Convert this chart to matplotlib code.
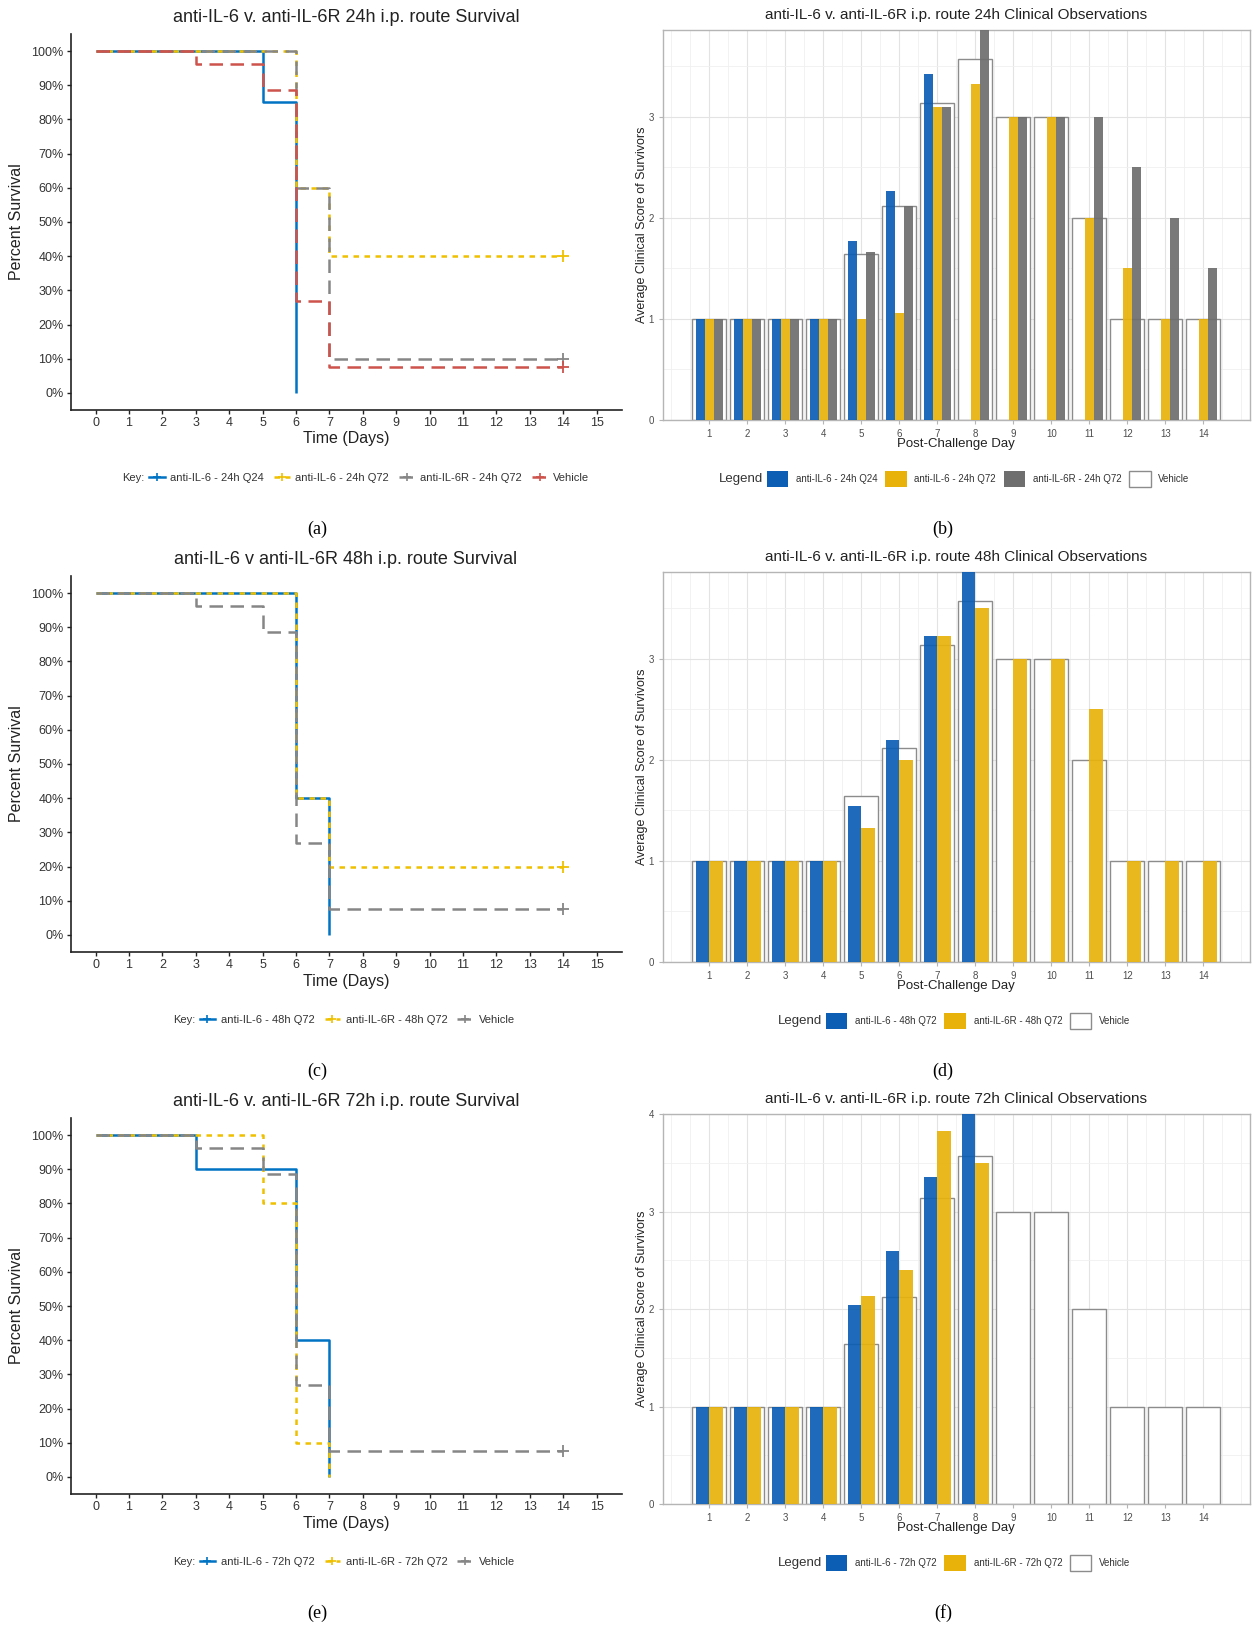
import numpy as np
import matplotlib.pyplot as plt
from matplotlib.lines import Line2D
from matplotlib.patches import Patch

plt.rcParams['font.family'] = ['Liberation Sans', 'DejaVu Sans']

W, H = 1253, 1626
FILA = 542  # vertical offset (px) between rows of panels

# colours
AZUL, AMARILLO, GRIS, ROJO = '#0073C2', '#EFC000', '#868686', '#CD534C'
AZUL_BAR, AMARILLO_BAR, GRIS_BAR = '#0C5DB4', '#E8B20B', '#6E6E6E'
BORDE_VEH = '#8C8C8C'

# ---- survival data (percent) ----
dias_vehiculo = [0, 3, 5, 6, 7, 14]
surv_vehiculo = [100, 96.2, 88.5, 26.9, 7.7, 7.7]

dias_24h_il6_q24 = [0, 5, 6]
surv_24h_il6_q24 = [100, 85, 0]
dias_24h_il6_q72 = [0, 6, 7, 14]
surv_24h_il6_q72 = [100, 60, 40, 40]
dias_24h_il6r_q72 = [0, 6, 7, 14]
surv_24h_il6r_q72 = [100, 60, 10, 10]

dias_48h_il6 = [0, 6, 7]
surv_48h_il6 = [100, 40, 0]
dias_48h_il6r = [0, 6, 7, 14]
surv_48h_il6r = [100, 40, 20, 20]

dias_72h_il6 = [0, 3, 6, 7]
surv_72h_il6 = [100, 90, 40, 0]
dias_72h_il6r = [0, 5, 6, 7]
surv_72h_il6r = [100, 80, 10, 0]

ticks_dias = list(range(0, 16))
ticks_pct = list(range(0, 101, 10))

# ---- clinical score data (days 1-14, 0 = no survivors) ----
dias_obs = list(range(1, 15))
veh_score = [1, 1, 1, 1, 1.64, 2.12, 3.14, 3.57, 3, 3, 2, 1, 1, 1]

b_il6_q24 = [1, 1, 1, 1, 1.77, 2.27, 3.42, 0, 0, 0, 0, 0, 0, 0]
b_il6_q72 = [1, 1, 1, 1, 1.0, 1.06, 3.10, 3.33, 3, 3, 2, 1.5, 1, 1]
b_il6r_q72 = [1, 1, 1, 1, 1.66, 2.12, 3.10, 3.86, 3, 3, 3, 2.5, 2, 1.5]

d_il6 = [1, 1, 1, 1, 1.54, 2.20, 3.23, 3.86, 0, 0, 0, 0, 0, 0]
d_il6r = [1, 1, 1, 1, 1.33, 2.0, 3.23, 3.5, 3, 3, 2.5, 1, 1, 1]

f_il6 = [1, 1, 1, 1, 2.04, 2.59, 3.35, 4.0, 0, 0, 0, 0, 0, 0]
f_il6r = [1, 1, 1, 1, 2.13, 2.40, 3.83, 3.50, 0, 0, 0, 0, 0, 0]

fig = plt.figure(figsize=(W / 100, H / 100), dpi=100)
fig.patch.set_facecolor('white')


def caja(x0, x1, y0, y1):
    # pixel box -> figure fraction rect
    return [x0 / W, 1 - y1 / H, (x1 - x0) / W, (y1 - y0) / H]


def leyenda_en_linea(handles, labels, titulo, cx, cy, fs, fs_tit, **kw):
    # legend with the title placed on the same row, to the left
    leg = fig.legend(handles, labels, loc='center', bbox_to_anchor=(cx / W, 1 - cy / H),
                     ncol=len(handles), frameon=False, fontsize=fs, **kw)
    for t in leg.get_texts():
        t.set_color('#333333')
    txt = fig.text(0, 1 - cy / H, titulo, fontsize=fs_tit, va='center', ha='left', color='#333333')
    fig.canvas.draw()
    r = fig.canvas.get_renderer()
    wl = leg.get_window_extent(r).width
    wt = txt.get_window_extent(r).width
    x0 = cx - (wt + wl) / 2
    txt.set_x(x0 / W)
    leg.set_bbox_to_anchor(((x0 + wt + wl / 2) / W, 1 - cy / H), transform=fig.transFigure)


def panel_supervivencia(fila, titulo, series, etiqueta, cx_key):
    dy = fila * FILA
    ax = fig.add_axes(caja(70.5, 621.7, 34 + dy, 410 + dy))
    handles, labels = [], []
    for dias, surv, color, ls, nombre in series:
        ax.plot(dias, surv, drawstyle='steps-post', color=color, lw=1.8, linestyle=ls,
                solid_capstyle='butt', dash_capstyle='butt')
        if dias[-1] == 14:
            ax.plot(dias[-1], surv[-1], marker='+', ms=8, mew=1.3, color=color)
        handles.append(Line2D([], [], color=color, lw=1.8, linestyle=ls, marker='+', ms=6, mew=1.2))
        labels.append(nombre)
    ax.set_xlim(-0.75, 15.75)
    ax.set_ylim(-5, 105)
    ax.set_xticks(ticks_dias)
    ax.set_yticks(ticks_pct)
    ax.set_yticklabels([f'{v}%' for v in ticks_pct])
    for s in ['top', 'right']:
        ax.spines[s].set_visible(False)
    for s in ['left', 'bottom']:
        ax.spines[s].set_linewidth(1.2)
        ax.spines[s].set_color('#222222')
    ax.tick_params(labelsize=9, colors='#222222', labelcolor='#333333', length=3, width=1, pad=2)
    fig.text(346 / W, 1 - (17 + dy) / H, titulo, fontsize=13, ha='center', va='center', color='#222222')
    fig.text(346 / W, 1 - (439 + dy) / H, 'Time (Days)', fontsize=11.5, ha='center', va='center', color='#222222')
    fig.text(17 / W, 1 - (222 + dy) / H, 'Percent Survival', fontsize=11.5, ha='center', va='center',
             rotation=90, color='#222222')
    fig.text(317 / W, 1 - (529 + dy) / H, etiqueta, fontsize=13, ha='center', va='center',
             family='Liberation Serif')
    leyenda_en_linea(handles, labels, 'Key:', cx_key, 478 + dy, 8, 8, numpoints=1,
                     handlelength=1.4, handletextpad=0.5, columnspacing=0.9)


def panel_barras(fila, titulo, series, etiqueta, ymax, yticks):
    dy = fila * FILA
    ax = fig.add_axes(caja(663, 1250, 30 + dy, 420 + dy))
    ax.bar(dias_obs, veh_score, width=0.9, color='white', edgecolor=BORDE_VEH, lw=1.0, zorder=2)
    n = len(series)
    w = 0.7 / n
    handles, labels = [], []
    for i, (vals, color, nombre) in enumerate(series):
        off = (i - (n - 1) / 2) * w
        ax.bar(np.array(dias_obs) + off, vals, width=w, color=color, alpha=0.92, lw=0, zorder=3)
        handles.append(Patch(facecolor=color, edgecolor='none'))
        labels.append(nombre)
    handles.append(Patch(facecolor='white', edgecolor=BORDE_VEH, lw=1.0))
    labels.append('Vehicle')
    ax.set_xlim(-0.22, 15.23)
    ax.set_ylim(0, ymax)
    ax.set_xticks(dias_obs)
    ax.set_yticks(yticks)
    ax.set_xticks(np.arange(0, 15.5, 0.5), minor=True)
    ax.set_yticks(np.arange(0.5, ymax, 0.5), minor=True)
    ax.grid(which='major', color='#E3E3E3', lw=0.8, zorder=0)
    ax.grid(which='minor', color='#F0F0F0', lw=0.6, zorder=0)
    ax.set_axisbelow(True)
    for s in ax.spines.values():
        s.set_color('#B5B5B5')
        s.set_linewidth(1.0)
    ax.tick_params(which='major', labelsize=7, labelcolor='#4D4D4D', color='#B5B5B5', length=3)
    ax.tick_params(which='minor', length=0)
    fig.text(956 / W, 1 - (14.5 + dy) / H, titulo, fontsize=11, ha='center', va='center', color='#222222')
    fig.text(956 / W, 1 - (444 + dy) / H, 'Post-Challenge Day', fontsize=9.5, ha='center', va='center',
             color='#222222')
    fig.text(642 / W, 1 - (225 + dy) / H, 'Average Clinical Score of Survivors', fontsize=9, ha='center',
             va='center', rotation=90, color='#222222')
    fig.text(943 / W, 1 - (529 + dy) / H, etiqueta, fontsize=13, ha='center', va='center',
             family='Liberation Serif')
    leyenda_en_linea(handles, labels, 'Legend', 956, 479 + dy, 7, 9.5, handlelength=2.2,
                     handleheight=2.2, handletextpad=0.8, columnspacing=0.8)


# row 1: 24h
panel_supervivencia(0, 'anti-IL-6 v. anti-IL-6R 24h i.p. route Survival', [
    (dias_24h_il6_q24, surv_24h_il6_q24, AZUL, '-', 'anti-IL-6 - 24h Q24'),
    (dias_24h_il6_q72, surv_24h_il6_q72, AMARILLO, (0, (2.2, 2.2)), 'anti-IL-6 - 24h Q72'),
    (dias_24h_il6r_q72, surv_24h_il6r_q72, GRIS, (0, (5.4, 3.0)), 'anti-IL-6R - 24h Q72'),
    (dias_vehiculo, surv_vehiculo, ROJO, (0, (5.4, 3.0)), 'Vehicle'),
], '(a)', 358)
panel_barras(0, 'anti-IL-6 v. anti-IL-6R i.p. route 24h Clinical Observations', [
    (b_il6_q24, AZUL_BAR, 'anti-IL-6 - 24h Q24'),
    (b_il6_q72, AMARILLO_BAR, 'anti-IL-6 - 24h Q72'),
    (b_il6r_q72, GRIS_BAR, 'anti-IL-6R - 24h Q72'),
], '(b)', max(b_il6r_q72), [0, 1, 2, 3])

# row 2: 48h
panel_supervivencia(1, 'anti-IL-6 v anti-IL-6R 48h i.p. route Survival', [
    (dias_48h_il6, surv_48h_il6, AZUL, '-', 'anti-IL-6 - 48h Q72'),
    (dias_48h_il6r, surv_48h_il6r, AMARILLO, (0, (2.2, 2.2)), 'anti-IL-6R - 48h Q72'),
    (dias_vehiculo, surv_vehiculo, GRIS, (0, (5.4, 3.0)), 'Vehicle'),
], '(c)', 346)
panel_barras(1, 'anti-IL-6 v. anti-IL-6R i.p. route 48h Clinical Observations', [
    (d_il6, AZUL_BAR, 'anti-IL-6 - 48h Q72'),
    (d_il6r, AMARILLO_BAR, 'anti-IL-6R - 48h Q72'),
], '(d)', max(d_il6), [0, 1, 2, 3])

# row 3: 72h
panel_supervivencia(2, 'anti-IL-6 v. anti-IL-6R 72h i.p. route Survival', [
    (dias_72h_il6, surv_72h_il6, AZUL, '-', 'anti-IL-6 - 72h Q72'),
    (dias_72h_il6r, surv_72h_il6r, AMARILLO, (0, (2.2, 2.2)), 'anti-IL-6R - 72h Q72'),
    (dias_vehiculo, surv_vehiculo, GRIS, (0, (5.4, 3.0)), 'Vehicle'),
], '(e)', 346)
panel_barras(2, 'anti-IL-6 v. anti-IL-6R i.p. route 72h Clinical Observations', [
    (f_il6, AZUL_BAR, 'anti-IL-6 - 72h Q72'),
    (f_il6r, AMARILLO_BAR, 'anti-IL-6R - 72h Q72'),
], '(f)', max(f_il6), [0, 1, 2, 3, 4])

fig.savefig('out.png', dpi=100)
plt.close(fig)
